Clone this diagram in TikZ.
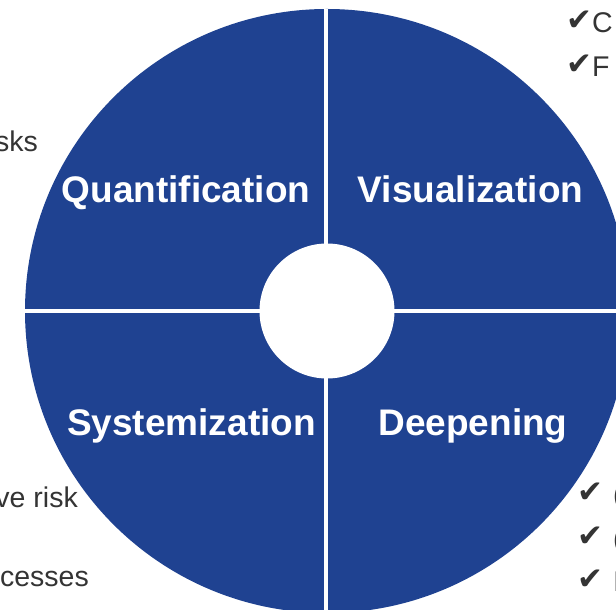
\documentclass[tikz,border=0pt]{standalone}
\usepackage{fontspec}
\setmainfont{Liberation Sans}
\newfontfamily\checkfont{DejaVu Sans}

\definecolor{wheelblue}{RGB}{31,66,145}
\definecolor{notegray}{RGB}{52,52,52}
\newcommand{\tick}{\raisebox{2pt}{\checkfont\fontsize{31}{36}\selectfont ✔}}

\tikzset{
  quadlabel/.style={text=white, inner sep=0pt, anchor=base,
    font=\fontsize{37}{44}\selectfont\bfseries},
  note/.style={text=notegray, inner sep=0pt, anchor=base east,
    font=\fontsize{28.5}{34}\selectfont},
  ticknote/.style={note, anchor=base west},
}

\begin{document}
\begin{tikzpicture}[x=1pt,y=1pt]

  % parameters
  \def\cx{327}  % wheel centre x
  \def\cy{299}  % wheel centre y
  \def\R{302}   % outer radius
  \def\r{67.5}  % hub radius

  \useasboundingbox (0,0) rectangle (616,610);
  \clip (0,0) rectangle (616,610);

  % wheel
  \fill[wheelblue] (\cx,\cy) circle (\R);

  % quadrant dividers
  \draw[white, line width=4pt] (\cx-\R,\cy) -- (\cx+\R,\cy);
  \draw[white, line width=4pt] (\cx-1,\cy-\R) -- (\cx-1,\cy+\R);

  % hub
  \fill[white] (\cx,\cy) circle (\r);

  % quadrant labels
  \node[quadlabel] (quant) at (186,407)   {Quantification};
  \node[quadlabel] (visu)  at (470.5,407) {Visualization};
  \node[quadlabel] (syst)  at (191.5,174) {Systemization};
  \node[quadlabel] (deep)  at (473,174)   {Deepening};

  % notes on the left
  \node[note] (risks)   at (38,458) {sks};
  \node[note] (riskB)   at (78,102) {ve risk};
  \node[note] (process) at (89,23)  {cesses};

  % ticked notes on the right
  \node[ticknote] (visA) at (566,577) {\makebox[26pt][l]{\tick}C};
  \node[ticknote] (visB) at (566,533) {\makebox[26pt][l]{\tick}F};
  \foreach \y/\t [count=\i] in {105/(, 61/(, 18/I} {
    \node[ticknote] (deep\i) at (577,\y) {\makebox[36pt][l]{\tick}\t};
  }

\end{tikzpicture}
\end{document}
